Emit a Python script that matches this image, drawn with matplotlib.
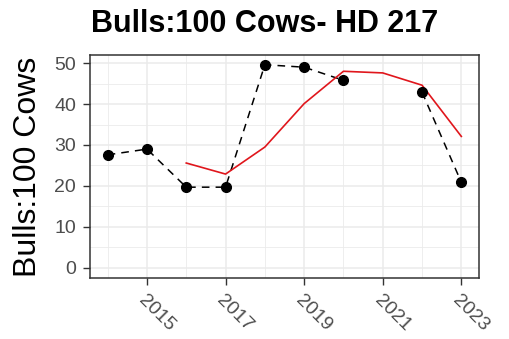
import numpy as np
import matplotlib.pyplot as plt

years = [2014, 2015, 2016, 2017, 2018, 2019, 2020, 2021, 2022, 2023]
ratio = [27.6, 29.0, 19.7, 19.7, 49.6, 49.0, 45.8, np.nan, 42.9, 20.9]
avg_years = [2016, 2017, 2018, 2019, 2020, 2021, 2022, 2023]
avg_ratio = [25.6, 22.9, 29.5, 40.1, 48.0, 47.6, 44.6, 32.1]

plt.rcParams['font.family'] = ['Liberation Sans', 'DejaVu Sans']

fig = plt.figure(figsize=(5.09, 3.39), dpi=100)
ax = fig.add_axes([90 / 509, 1 - 278 / 339, (479 - 90) / 509, (278 - 55) / 339])

ax.plot(years, ratio, color='black', linestyle=(0, (5, 4)), linewidth=1.1, zorder=3)
ax.plot(years, ratio, 'o', color='black', markersize=7, zorder=4)
ax.plot(avg_years, avg_ratio, color='#e0161c', linewidth=1.2, zorder=3)

ax.set_xlim(2013.55, 2023.45)
ax.set_ylim(-2.475, 51.975)
ax.set_xticks([2015, 2017, 2019, 2021, 2023])
ax.set_xticks([2014, 2016, 2018, 2020, 2022], minor=True)
ax.set_yticks([0, 10, 20, 30, 40, 50])
ax.set_yticks([5, 15, 25, 35, 45], minor=True)

ax.grid(which='major', color='#ebebeb', linewidth=1.1)
ax.grid(which='minor', color='#ebebeb', linewidth=0.6)
ax.set_axisbelow(True)
ax.tick_params(which='minor', length=0)
ax.tick_params(which='major', length=5, color='#333333', width=1, labelsize=14, labelcolor='#4d4d4d')
ax.tick_params(axis='y', pad=5)
ax.tick_params(axis='x', pad=5)
for s in ax.spines.values():
    s.set_color('#333333')
    s.set_linewidth(1.1)

for lab in ax.get_xticklabels():
    lab.set_rotation(-45)
    lab.set_ha('left')
    lab.set_va('top')
    lab.set_rotation_mode('anchor')

ax.set_ylabel('Bulls:100 Cows', fontsize=23, labelpad=8)
fig.text(0.52, 0.93, 'Bulls:100 Cows- HD 217', fontsize=22, fontweight='bold', ha='center', va='center')

fig.savefig('out.png', dpi=100)
